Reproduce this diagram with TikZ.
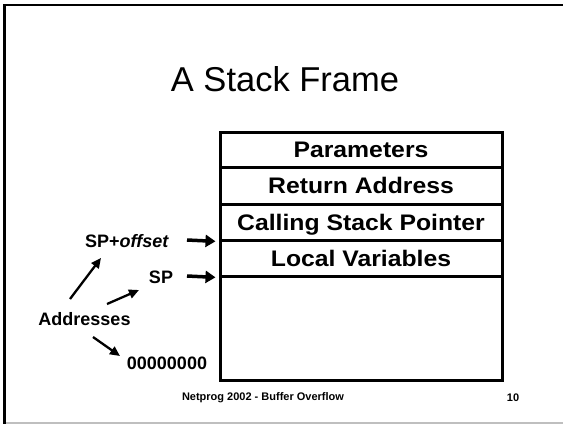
\documentclass[tikz,border=0pt]{standalone}
\usepackage{fontspec}
\setmainfont{Liberation Sans}
\newfontfamily\widesans{Liberation Sans}[FakeStretch=1.1]
\usetikzlibrary{arrows.meta}
\tikzset{
  rowbox/.style={draw, line width=3pt, minimum width=282pt, inner sep=0pt,
    text height=16.1pt, text depth=0pt, font=\widesans\fontsize{22.5}{27}\selectfont\bfseries},
  lbl/.style={inner sep=0pt, text height=12.9pt, text depth=0pt, font=\fontsize{18}{21}\selectfont\bfseries},
  foot/.style={inner sep=0pt, font=\fontsize{11}{13}\selectfont\bfseries},
  harrow/.style={line width=3.5pt, -{Triangle[length=10pt,width=12pt]}},
  darrow/.style={line width=2.3pt, -{Triangle[length=10pt,width=9pt]}},
}
\begin{document}
\begin{tikzpicture}[x=1pt,y=-1pt]
\useasboundingbox (0,0) rectangle (563,424);
% slide frame
\draw[line width=2.5pt] (3,5) -- (563,5);
\draw[line width=3pt] (4.5,4) -- (4.5,424);
\draw[line width=1.5pt, black!25] (6,423) -- (563,423);
% title
\node[inner sep=0pt, text height=23.5pt, text depth=0pt, font=\fontsize{34.5}{40}\selectfont] (title) at (285,80) {A Stack Frame};
% stack frame rows
\node[rowbox, minimum height=35pt] (p) at (361,149.5) {Parameters};
\node[rowbox, minimum height=37pt] (r) at (361,185.5) {Return Address};
\node[rowbox, minimum height=36pt] (c) at (361,222) {Calling Stack Pointer};
\node[rowbox, minimum height=36pt] (l) at (361,258) {Local Variables};
\node[rowbox, minimum height=104pt] (e) at (361,328) {};
% labels
\node[lbl] (so) at (127,241) {SP+\textit{offset}};
\node[lbl] (sp) at (161,277) {SP};
\node[lbl] (ad) at (84.5,319) {Addresses};
\node[lbl] (zz) at (167,363) {00000000};
% horizontal arrows
\coordinate (sot) at (187,240);
\coordinate (spt) at (187,276);
\draw[harrow, shorten >=3pt] (sot) -- (c.south west);
\draw[harrow, shorten >=3pt] (spt) -- (l.south west);
% diagonal arrows
\coordinate (a1s) at (70,299);
\coordinate (a1e) at (101,258);
\coordinate (a2s) at (107,304);
\coordinate (a2e) at (139,290);
\coordinate (a3s) at (93,337);
\coordinate (a3e) at (120,356);
\draw[darrow] (a1s) -- (a1e);
\draw[darrow] (a2s) -- (a2e);
\draw[darrow] (a3s) -- (a3e);
% footer
\node[foot] (ft) at (263,398) {Netprog 2002 - Buffer Overflow};
\node[foot] (pg) at (513,398) {10};
\end{tikzpicture}
\end{document}
